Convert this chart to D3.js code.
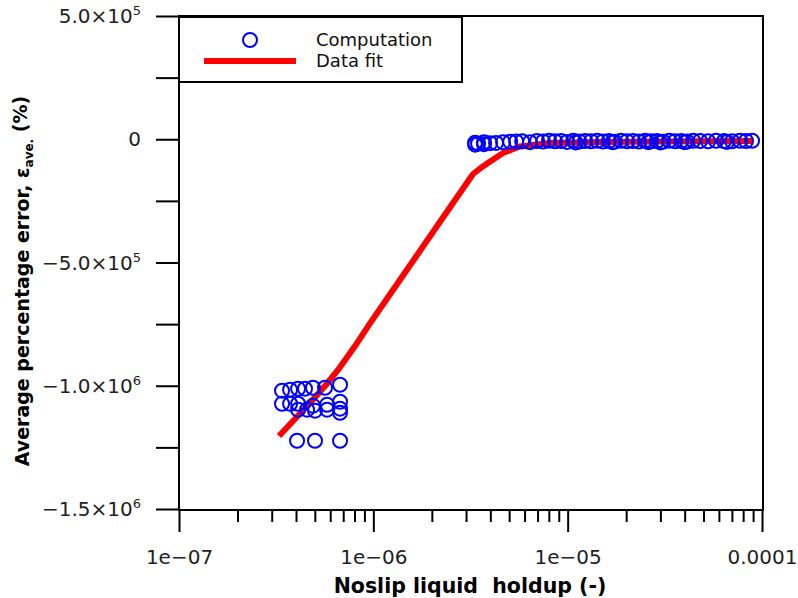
<!DOCTYPE html>
<html><head><meta charset="utf-8">
<script src="https://cdn.jsdelivr.net/npm/d3@7"></script>
<style>body{margin:0;background:#fff}svg{display:block}</style>
</head><body><svg id="c" width="798" height="598"></svg>
<script>
// ---- data ----
const compX = [
  3.39e-7,3.73e-7,4.10e-7,4.45e-7,4.89e-7,5.64e-7,6.74e-7,
  3.39e-7,3.73e-7,4.10e-7,4.89e-7,5.78e-7,6.74e-7,
  4.10e-7,4.56e-7,5.01e-7,5.78e-7,6.74e-7,6.74e-7,
  4.05e-7,5.01e-7,6.74e-7,
  3.34e-6,3.34e-6,3.46e-6,3.71e-6,3.71e-6,3.99e-6,4.28e-6,4.65e-6,5.06e-6,5.43e-6,5.83e-6,
  6.40e-6,6.96e-6,7.47e-6,8.02e-6,8.61e-6,9.25e-6,9.93e-6,1.07e-5,1.15e-5,1.23e-5,1.32e-5,
  1.42e-5,1.52e-5,1.63e-5,1.75e-5,1.88e-5,2.02e-5,2.17e-5,2.33e-5,2.50e-5,2.69e-5,2.88e-5,
  3.10e-5,3.33e-5,3.57e-5,3.84e-5,4.12e-5,4.42e-5,4.80e-5,5.28e-5,5.80e-5,6.38e-5,7.02e-5,
  7.71e-5,8.28e-5,8.89e-5,
  1.10e-5,1.70e-5,2.60e-5,3.00e-5,4.00e-5,6.60e-5
];
const compY = [
  -1.020e6,-1.016e6,-1.012e6,-1.012e6,-1.008e6,-1.008e6,-0.996e6,
  -1.073e6,-1.073e6,-1.073e6,-1.081e6,-1.077e6,-1.065e6,
  -1.097e6,-1.097e6,-1.101e6,-1.097e6,-1.093e6,-1.110e6,
  -1.223e6,-1.223e6,-1.223e6,
  -2.2e4,-1.4e4,-1.8e4,-2.0e4,-1.2e4,-1.6e4,-1.5e4,-1.2e4,-1.0e4,-9e3,-8e3,
  -1.2e4,-7e3,-9e3,-6e3,-8e3,-7e3,-1.1e4,-6e3,-9e3,-7e3,-8e3,
  -6e3,-9e3,-7e3,-1.0e4,-6e3,-8e3,-7e3,-9e3,-6e3,-8e3,-7e3,
  -1.0e4,-6e3,-8e3,-7e3,-9e3,-6e3,-7e3,-8e3,-6e3,-7e3,-8e3,
  -6e3,-7e3,-6e3,
  -1.3e4,-1.2e4,-1.2e4,-1.3e4,-1.2e4,-1.1e4
];
const fitX = [3.27e-7,3.95e-7,4.72e-7,5.64e-7,6.58e-7,8.05e-7,9.61e-7,1.37e-6,2.20e-6,3.26e-6,3.62e-6,3.99e-6,4.65e-6,5.69e-6,8.11e-6,1.47e-5,4.80e-5,8.89e-5];
const fitY = [-1.204e6,-1.135e6,-1.070e6,-1.001e6,-9.36e5,-8.39e5,-7.47e5,-5.71e5,-3.36e5,-1.41e5,-1.13e5,-9.0e4,-5.6e4,-2.9e4,-1.5e4,-1.1e4,-8e3,-7e3];

const xMajorTicks = [1e-7,1e-6,1e-5,1e-4];
const xTickLabels = ["1e\u221207","1e\u221206","1e\u221205","0.0001"];
const yMajorTicks = [5e5,0,-5e5,-1e6,-1.5e6];
const yTickMantissa = ["5.0\u00d710","0","\u22125.0\u00d710","\u22121.0\u00d710","\u22121.5\u00d710"];
const yTickExponent = ["5","","5","6","6"];
const yMinorTicks = [2.5e5,-2.5e5,-7.5e5,-1.25e6];
const seriesNames = ["Computation","Data fit"];

// ---- layout ----
const L = 179, R = 762, T = 16, B = 509;
const svg = d3.select("#c");
const font = "DejaVu Sans, sans-serif";
const x = d3.scaleLog().domain([1e-7,1e-4]).range([L,R]);
const y = d3.scaleLinear().domain([-1.5e6,5e5]).range([B,T]);

// frame
svg.append("rect").attr("x",L).attr("y",T).attr("width",763-L).attr("height",B+1-T)
  .attr("fill","none").attr("stroke","#000").attr("stroke-width",2);

// x axis
const xMinor = [];
for (let d=-7; d<-4; d++) for (let m=2; m<=9; m++) xMinor.push(m*Math.pow(10,d));
const gx = svg.append("g").attr("transform",`translate(0,${B+1})`);
gx.call(d3.axisBottom(x).tickValues(xMinor).tickSize(12).tickFormat(""));
gx.append("g").call(d3.axisBottom(x).tickValues(xMajorTicks).tickSize(22)
  .tickFormat((d,i)=>xTickLabels[i]));
gx.selectAll(".domain").remove();
gx.selectAll("line").attr("stroke","#000").attr("stroke-width",2);
gx.selectAll("text").attr("font-family",font).attr("font-size",20).attr("fill","#222")
  .attr("y",40);

// y axis
const gy = svg.append("g").attr("transform",`translate(${L-1},0)`);
gy.call(d3.axisLeft(y).tickValues(yMinorTicks).tickSize(22).tickFormat(""));
const gym = gy.append("g").call(d3.axisLeft(y).tickValues(yMajorTicks).tickSize(22).tickFormat(""));
gy.selectAll(".domain").remove();
gy.selectAll("line").attr("stroke","#000").attr("stroke-width",2);
gym.selectAll(".tick").each(function(d,i){
  const t = d3.select(this).append("text").attr("x",-37).attr("dy","0.33em")
    .attr("text-anchor","end").attr("font-family",font).attr("font-size",20).attr("fill","#222");
  t.append("tspan").text(yTickMantissa[i]);
  if (yTickExponent[i]) t.append("tspan").attr("font-size",13).attr("dy","-0.6em").text(yTickExponent[i]);
});

// fit line
svg.append("path").datum(fitX.map((v,i)=>[v,fitY[i]]))
  .attr("d",d3.line().x(d=>x(d[0])).y(d=>y(d[1])))
  .attr("fill","none").attr("stroke","#ff0000").attr("stroke-width",6)
  .attr("stroke-linejoin","round");

// computation circles
svg.append("g").selectAll("circle").data(compX.map((v,i)=>[v,compY[i]])).join("circle")
  .attr("cx",d=>x(d[0])).attr("cy",d=>y(d[1])).attr("r",7)
  .attr("fill","none").attr("stroke","#0000ff").attr("stroke-width",2);

// legend
const lg = svg.append("g");
lg.append("rect").attr("x",179).attr("y",17).attr("width",283).attr("height",65)
  .attr("fill","#fff").attr("stroke","#000").attr("stroke-width",2);
lg.append("circle").attr("cx",250).attr("cy",40).attr("r",7)
  .attr("fill","none").attr("stroke","#0000ff").attr("stroke-width",2);
lg.append("line").attr("x1",204).attr("x2",296).attr("y1",61).attr("y2",61)
  .attr("stroke","#ff0000").attr("stroke-width",6);
lg.selectAll("text.leg").data(seriesNames).join("text").attr("class","leg")
  .attr("x",316).attr("y",(d,i)=>46+i*21).attr("font-family",font).attr("font-size",18)
  .attr("fill","#111").text(d=>d);

// axis titles
svg.append("text").attr("x",470).attr("y",593).attr("text-anchor","middle")
  .attr("font-family",font).attr("font-size",20.5).attr("font-weight","bold")
  .style("white-space","pre").text("Noslip liquid  holdup (-)");
const yt = svg.append("text").attr("transform","translate(29,281) rotate(-90)")
  .attr("text-anchor","middle").attr("font-family",font).attr("font-size",19).attr("font-weight","bold");
yt.append("tspan").text("Average percentage error, \u03b5");
yt.append("tspan").attr("font-size",12).attr("dy","0.3em").text("ave.");
yt.append("tspan").attr("dy","-0.3em").text(" (%)");
</script></body></html>
